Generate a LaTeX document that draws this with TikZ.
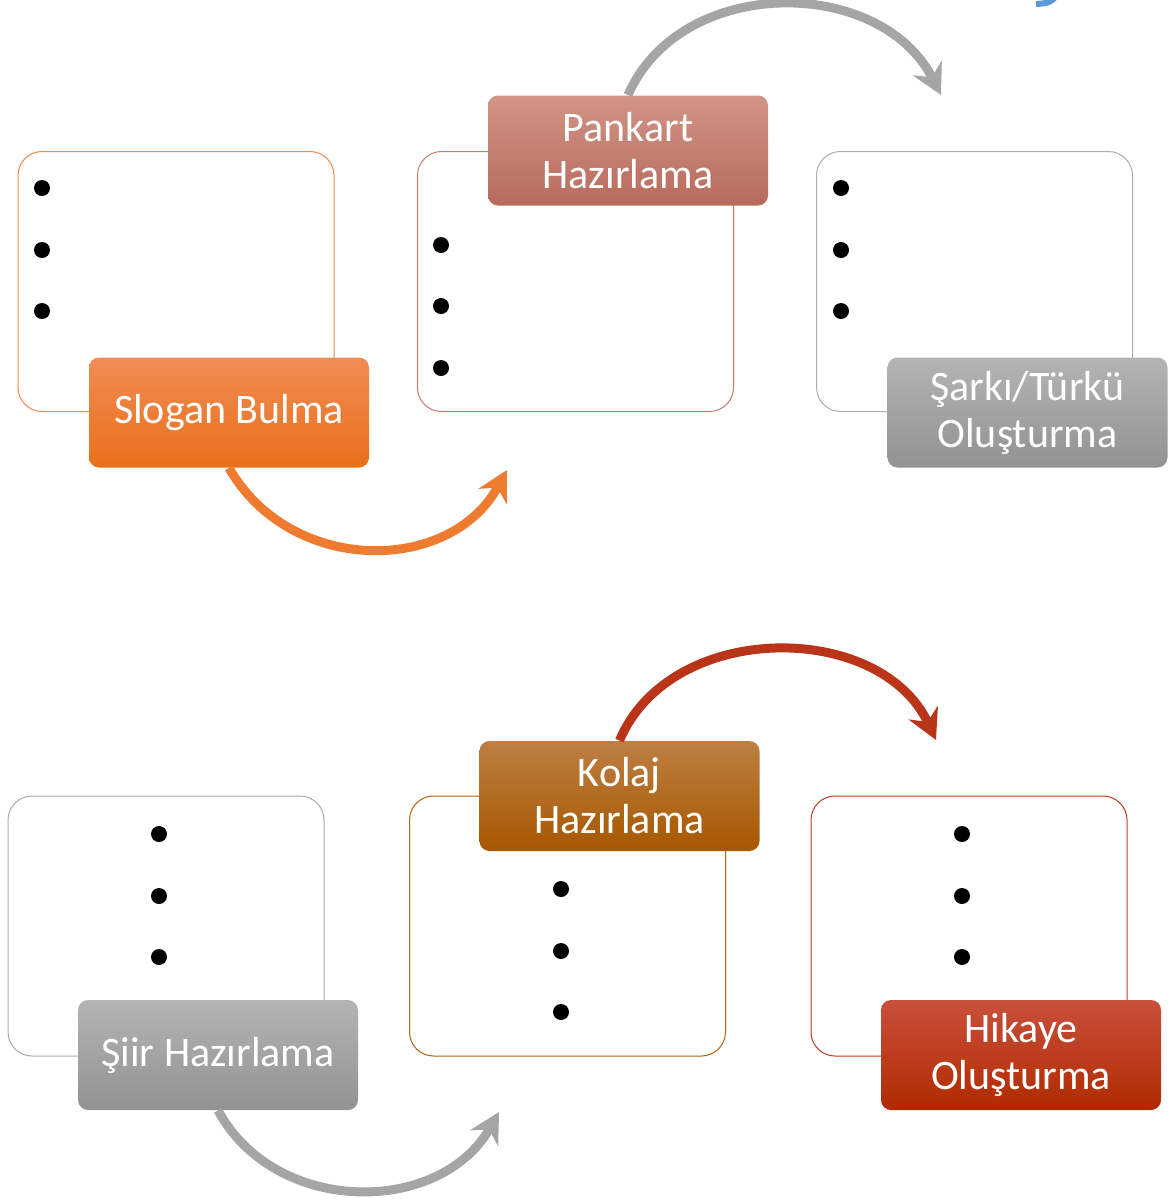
\documentclass[tikz,border=0pt]{standalone}
\usepackage{fontspec}
\setmainfont{Carlito}
\usepackage{xcolor}
\usetikzlibrary{arrows.meta}
\definecolor{orangetop}{HTML}{F18C55}
\definecolor{orangebot}{HTML}{E8701A}
\definecolor{orangeline}{HTML}{F08A4B}
\definecolor{orangearrow}{HTML}{EE7B30}
\definecolor{rosetop}{HTML}{D19486}
\definecolor{rosebot}{HTML}{B86A5C}
\definecolor{roseline}{HTML}{C97B6E}
\definecolor{greytop}{HTML}{B4B4B4}
\definecolor{greybot}{HTML}{929292}
\definecolor{greyline}{HTML}{ACACAC}
\definecolor{greyarrow}{HTML}{A5A5A5}
\definecolor{browntop}{HTML}{BE7E44}
\definecolor{brownbot}{HTML}{A65800}
\definecolor{brownline}{HTML}{B36010}
\definecolor{redtop}{HTML}{C9503C}
\definecolor{redbot}{HTML}{B02A00}
\definecolor{redline}{HTML}{C03A1E}
\definecolor{redarrow}{HTML}{B93418}
\definecolor{bluearrow}{HTML}{5B9BD5}
\tikzset{
    list-box/.style = {draw=#1, fill=white, line width=0.5pt, rectangle, rounded corners=12pt, minimum width=158pt, minimum height=130pt, inner sep=0pt},
    step-box/.style 2 args = {top color=#1, bottom color=#2, draw=none, rectangle, rounded corners=5pt, minimum width=140pt, minimum height=55pt, inner sep=0pt, text=white, align=center, font=\fontsize{21}{23.5}\selectfont},
    flow-arrow/.style = {draw=#1, line width=4.5pt, -{Stealth[length=15pt, width=16pt, inset=5pt]}},
}

\begin{document}
\begin{tikzpicture}[x=0.5pt, y=-0.5pt]
\useasboundingbox (0,0) rectangle (1173,1201);

% top row
\node[list-box=orangeline] (slogan-list) at (176,281.5) {};
\node[list-box=roseline] (pankart-list) at (575.5,281.5) {};
\node[list-box=greyline] (sarki-list) at (974.5,281.5) {};
\foreach \y in {188,250,311} {
    \fill (42,\y) circle (4pt);
    \fill (841,\y) circle (4pt);
}
\foreach \y in {245,306,368}
    \fill (441,\y) circle (4pt);
\node[step-box={orangetop}{orangebot}] (slogan) at (229,412.5) {Slogan Bulma};
\node[step-box={rosetop}{rosebot}] (pankart) at (628,150.5) {Pankart\\Hazırlama};
\node[step-box={greytop}{greybot}] (sarki) at (1027.5,412.5) {Şarkı/Türkü\\Oluşturma};

\coordinate (slogan-end) at (507,470);
\coordinate (pankart-end) at (941,95);
\draw[flow-arrow=orangearrow] (slogan.south) .. controls (290,575) and (450,575) .. (slogan-end);
\draw[flow-arrow=greyarrow] (pankart.north) .. controls (680,-25) and (880,-25) .. (pankart-end);
\draw[line width=3pt, bluearrow] (1036,4) .. controls (1050,3) .. (1060,-8);

% bottom row
\node[list-box=greyline] (siir-list) at (166,926) {};
\node[list-box=brownline] (kolaj-list) at (567.5,926) {};
\node[list-box=redline] (hikaye-list) at (969,926) {};
\foreach \y in {834,896,957} {
    \fill (159,\y) circle (4pt);
    \fill (962,\y) circle (4pt);
}
\foreach \y in {889,951,1012}
    \fill (561,\y) circle (4pt);
\node[step-box={greytop}{greybot}] (siir) at (218,1055) {Şiir Hazırlama};
\node[step-box={browntop}{brownbot}] (kolaj) at (619.5,796) {Kolaj\\Hazırlama};
\node[step-box={redtop}{redbot}] (hikaye) at (1021,1055) {Hikaye\\Oluşturma};

\coordinate (siir-end) at (499,1112);
\coordinate (kolaj-end) at (936,740);
\draw[flow-arrow=greyarrow] (siir.south) .. controls (275,1216) and (440,1216) .. (siir-end);
\draw[flow-arrow=redarrow] (kolaj.north) .. controls (670,620) and (880,620) .. (kolaj-end);
\end{tikzpicture}
\end{document}
